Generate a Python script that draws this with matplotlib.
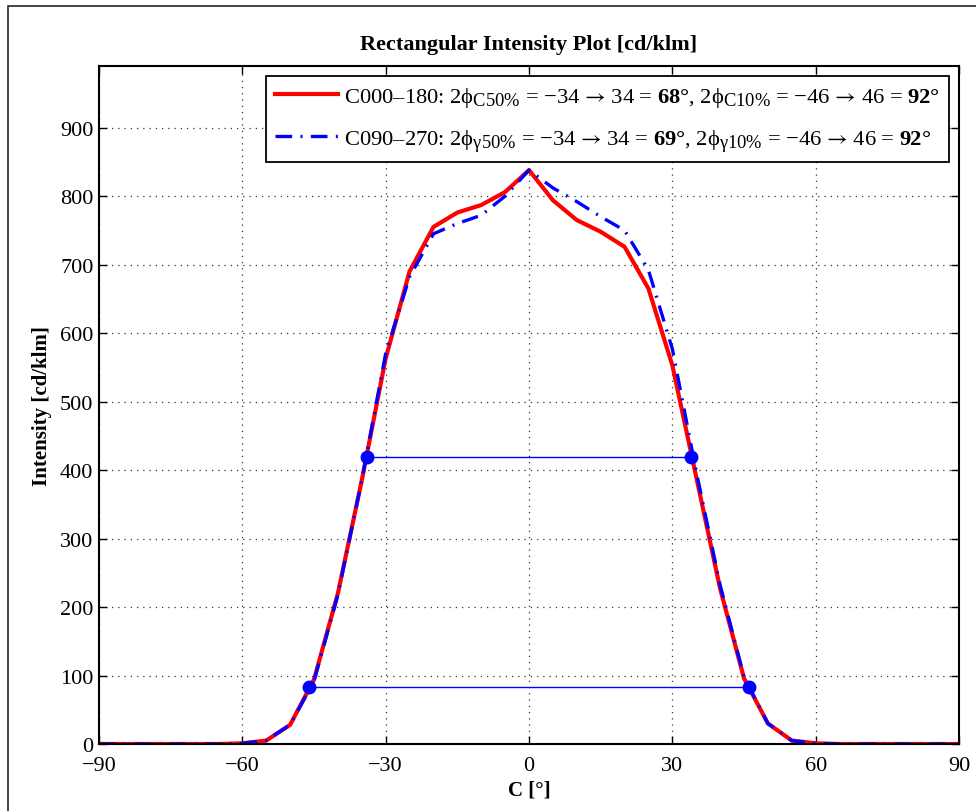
import numpy as np
import matplotlib
matplotlib.use('Agg')
import matplotlib.pyplot as plt
import matplotlib._mathtext as _mt
from matplotlib.patches import Rectangle

plt.rcParams['font.family'] = ['Liberation Serif', 'DejaVu Serif']
plt.rcParams['mathtext.fontset'] = 'custom'
plt.rcParams['mathtext.rm'] = 'Liberation Serif'
plt.rcParams['mathtext.it'] = 'Liberation Serif:italic'
plt.rcParams['mathtext.bf'] = 'Liberation Serif:bold'
plt.rcParams['mathtext.sf'] = 'STIXGeneral'   # sólo para las flechas
plt.rcParams['mathtext.fallback'] = 'stix'
# subíndices más grandes, como en la figura original
_mt.SHRINK_FACTOR = 0.82

# ── Datos ──────────────────────────────────────────────────────────
angulos = np.arange(-90, 91, 5)
int_c000 = [0, 0, 0, 0, 0, 0, 1, 5, 28, 94, 220, 385, 563, 690, 755, 776, 787, 806,
            838, 794, 765, 748, 726, 665, 553, 390, 227, 96, 30, 5, 1,
            0, 0, 0, 0, 0, 0]
int_c090 = [0, 0, 0, 0, 0, 0, 1, 5, 28, 92, 218, 385, 570, 682, 745, 760, 772, 800,
            838, 812, 792, 770, 750, 692, 577, 398, 232, 98, 30, 5, 1,
            0, 0, 0, 0, 0, 0]

ang_50 = [-34, 34]
val_50 = [419, 419]
ang_10 = [-46, 46]
val_10 = [83.8, 83.8]

FLECHA = r"$\mathsf{→}$"
etiqueta_c000 = (r"C000–180: 2$\mathrm{\phi}_{\mathrm{C50\%}}$ = −34 " + FLECHA +
                 r" 34 = $\mathbf{68°}$, 2$\mathrm{\phi}_{\mathrm{C10\%}}$ = −46 " + FLECHA +
                 r" 46 = $\mathbf{92°}$")
etiqueta_c090 = (r"C090–270: 2$\mathrm{\phi}_{\mathrm{γ50\%}}$ = −34 " + FLECHA +
                 r" 34 = $\mathbf{69°}$, 2$\mathrm{\phi}_{\mathrm{γ10\%}}$ = −46 " + FLECHA +
                 r" 46 = $\mathbf{92°}$")

# ── Figura ─────────────────────────────────────────────────────────
fig = plt.figure(figsize=(9.76, 8.12), dpi=100)
ax = fig.add_axes([99 / 976, 1 - 745 / 812, 860 / 976, 678 / 812])

# marco de la figura (sólo visible arriba e izquierda)
fig.patches.append(Rectangle((8 / 976, -0.05), 1.1, 1.05 - 7 / 812,
                             transform=fig.transFigure, fill=False,
                             edgecolor='0.15', linewidth=1.2))

ax.plot(angulos, int_c000, '-', color='red', linewidth=3.0, label=etiqueta_c000)
ax.plot(angulos, int_c090, color='blue', linewidth=2.4,
        linestyle=(0, (5, 2.5, 0.6, 2.5)), label=etiqueta_c090)

ax.plot(ang_50, val_50, '-', color='blue', linewidth=1.0)
ax.plot(ang_10, val_10, '-', color='blue', linewidth=1.0)
ax.plot(ang_50 + ang_10, val_50 + val_10, 'o', color='blue', markersize=9,
        linestyle='none')

ax.set_xlim(-90, 90)
ax.set_ylim(0, 990)
ax.set_xticks(np.arange(-90, 91, 30))
ax.set_yticks(np.arange(0, 901, 100))
ax.tick_params(direction='in', top=True, right=True, length=6, width=1.0,
               labelsize=16)
ax.tick_params(axis='x', pad=9)
ax.tick_params(axis='y', pad=4)
ax.grid(True, linestyle=(0, (1, 4)), color='0.2', linewidth=0.9)
for s in ax.spines.values():
    s.set_linewidth(1.5)

ax.set_title('Rectangular Intensity Plot [cd/klm]', fontsize=16,
             fontweight='bold', pad=12)
ax.set_xlabel('C [°]', fontsize=15, fontweight='bold', labelpad=3)
ax.set_ylabel('Intensity [cd/klm]', fontsize=15, fontweight='bold', labelpad=6)

leg = ax.legend(loc='upper right', fontsize=16.2, handlelength=2.8,
                handletextpad=0.3, labelspacing=0.8, borderaxespad=0.45,
                fancybox=False, framealpha=1, edgecolor='black')
leg.get_frame().set_linewidth(1.3)

fig.savefig('out.png', dpi=100)
